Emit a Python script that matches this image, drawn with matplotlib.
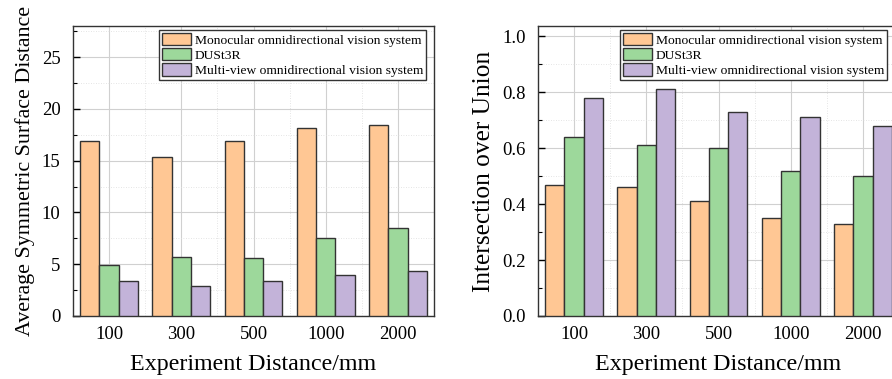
import numpy as np
import matplotlib
matplotlib.use("Agg")
import matplotlib.pyplot as plt
from matplotlib.ticker import MultipleLocator

plt.rcParams['font.family'] = ['Liberation Serif', 'DejaVu Serif']

# distances tested and the three methods
distances = ["100", "300", "500", "1000", "2000"]
methods = ["Monocular omnidirectional vision system",
           "DUSt3R",
           "Multi-view omnidirectional vision system"]
colors = ["#FFC794", "#9DD89B", "#C3B3D9"]

# average symmetric surface distance per method
assd_mono = [16.9, 15.4, 16.9, 18.2, 18.4]
assd_dust3r = [4.9, 5.7, 5.6, 7.5, 8.5]
assd_multi = [3.4, 2.9, 3.4, 4.0, 4.3]

# intersection over union per method
iou_mono = [0.47, 0.46, 0.41, 0.35, 0.33]
iou_dust3r = [0.64, 0.61, 0.60, 0.52, 0.50]
iou_multi = [0.78, 0.81, 0.73, 0.71, 0.68]

fig = plt.figure(figsize=(8.92, 3.79), dpi=100)
W, H = 892, 379
ax1 = fig.add_axes([73 / W, 1 - 316 / H, 361 / W, 290 / H])
ax2 = fig.add_axes([538 / W, 1 - 316 / H, 361 / W, 290 / H])

x = np.arange(len(distances))
bw = 0.267


def draw(ax, series, ylim, major, minor, ylabel, ylabel_size, leg_right):
    for k, vals in enumerate(series):
        ax.bar(x + (k - 1) * bw, vals, bw, color=colors[k], edgecolor="#333333",
               linewidth=1.0, label=methods[k], zorder=3)
    ax.set_xlim(-0.5, 4.5)
    ax.set_ylim(*ylim)
    ax.set_xticks(x)
    ax.set_xticklabels(distances)
    ax.xaxis.set_minor_locator(MultipleLocator(0.5))
    ax.yaxis.set_major_locator(MultipleLocator(major))
    ax.yaxis.set_minor_locator(MultipleLocator(minor))
    ax.grid(which="major", color="#d0d0d0", linewidth=0.8, zorder=0)
    ax.grid(which="minor", color="#dcdcdc", linewidth=0.6, linestyle=(0, (1, 2)), zorder=0)
    ax.set_axisbelow(True)
    ax.tick_params(axis="y", which="major", direction="in", length=5, width=1,
                   labelsize=13.5, pad=9)
    ax.tick_params(axis="y", which="minor", direction="in", length=3, width=0.8)
    ax.tick_params(axis="x", which="both", length=0, labelsize=13.5, pad=7)
    for s in ax.spines.values():
        s.set_linewidth(1.0)
        s.set_color("#333333")
    ax.set_xlabel("Experiment Distance/mm", fontsize=17.3, labelpad=8)
    ax.set_ylabel(ylabel, fontsize=ylabel_size, labelpad=5)
    leg = ax.legend(loc="upper right", bbox_to_anchor=(leg_right, 1 - 4 / 290),
                    borderaxespad=0, fontsize=9.7, frameon=True, fancybox=False,
                    edgecolor="#333333", framealpha=1, handlelength=2.15,
                    handleheight=1.0, handletextpad=0.3, labelspacing=0.12,
                    borderpad=0.22)
    leg.get_frame().set_linewidth(1.0)
    return leg


draw(ax1, [assd_mono, assd_dust3r, assd_multi], (0, 28), 5, 2.5,
     "Average Symmetric Surface Distance", 15.8, 1 - 8 / 361)
draw(ax2, [iou_mono, iou_dust3r, iou_multi], (0, 1.037), 0.2, 0.1,
     "Intersection over Union", 18.3, 1 - 12 / 361)
ax2.yaxis.set_major_formatter(plt.FormatStrFormatter("%.1f"))

fig.savefig("out.png", dpi=100)
